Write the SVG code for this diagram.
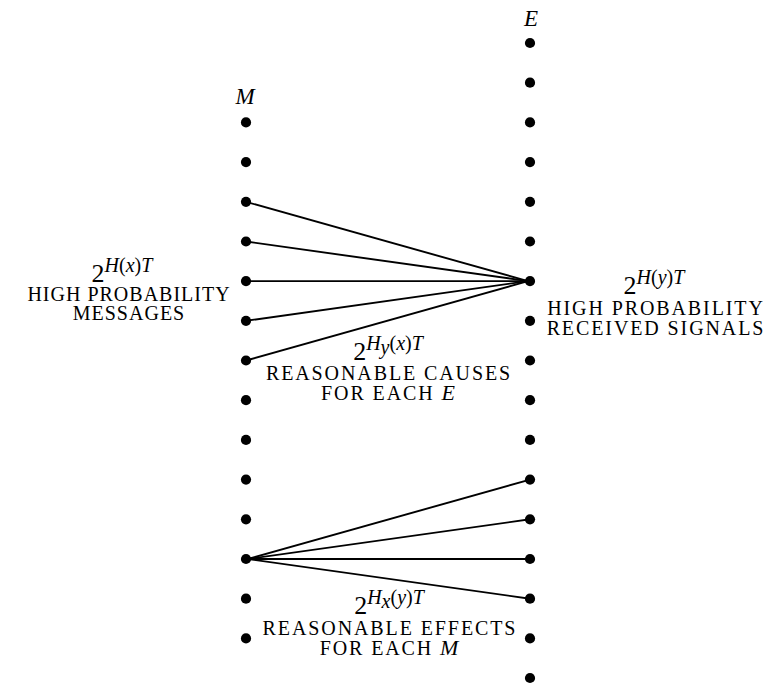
<svg xmlns="http://www.w3.org/2000/svg" width="765" height="686" viewBox="0 0 765 686">
<style>
.dot{fill:#000}
.ln{stroke:#000;stroke-width:1.9;fill:none}
.cap{font-family:"Liberation Serif","Times New Roman",serif;font-size:20px;letter-spacing:1.9px;fill:#000}
.two{font-family:"Liberation Serif","Times New Roman",serif;font-size:26px;fill:#000}
.sup{font-family:"Liberation Serif","Times New Roman",serif;font-size:20px;fill:#000}
.it{font-style:italic}
.lbl{font-family:"Liberation Serif","Times New Roman",serif;font-size:23px;font-style:italic;fill:#000}
</style>
<rect width="765" height="686" fill="#fff"/>
<g id="connectors">
<line class="ln" x1="246" y1="201.8" x2="528" y2="281.1"/>
<line class="ln" x1="246" y1="241.5" x2="528" y2="281.1"/>
<line class="ln" x1="246" y1="281.1" x2="528" y2="281.1"/>
<line class="ln" x1="246" y1="320.8" x2="528" y2="281.1"/>
<line class="ln" x1="246" y1="360.5" x2="528" y2="281.1"/>
<line class="ln" x1="248" y1="559.0" x2="530" y2="479.6"/>
<line class="ln" x1="248" y1="559.0" x2="530" y2="519.3"/>
<line class="ln" x1="248" y1="559.0" x2="530" y2="559.0"/>
<line class="ln" x1="248" y1="559.0" x2="530" y2="598.7"/>
</g>
<g id="M-column">
<g id="m2"><circle class="dot" cx="246" cy="122.4" r="5.1"/></g>
<g id="m3"><circle class="dot" cx="246" cy="162.1" r="5.1"/></g>
<g id="m4"><circle class="dot" cx="246" cy="201.8" r="5.1"/></g>
<g id="m5"><circle class="dot" cx="246" cy="241.5" r="5.1"/></g>
<g id="m6"><circle class="dot" cx="246" cy="281.1" r="5.1"/></g>
<g id="m7"><circle class="dot" cx="246" cy="320.8" r="5.1"/></g>
<g id="m8"><circle class="dot" cx="246" cy="360.5" r="5.1"/></g>
<g id="m9"><circle class="dot" cx="246" cy="400.2" r="5.1"/></g>
<g id="m10"><circle class="dot" cx="246" cy="439.9" r="5.1"/></g>
<g id="m11"><circle class="dot" cx="246" cy="479.6" r="5.1"/></g>
<g id="m12"><circle class="dot" cx="246" cy="519.3" r="5.1"/></g>
<g id="m13"><circle class="dot" cx="246" cy="559.0" r="5.1"/></g>
<g id="m14"><circle class="dot" cx="246" cy="598.7" r="5.1"/></g>
<g id="m15"><circle class="dot" cx="246" cy="638.4" r="5.1"/></g>
</g>
<g id="E-column">
<g id="e0"><circle class="dot" cx="530" cy="43.0" r="5.1"/></g>
<g id="e1"><circle class="dot" cx="530" cy="82.7" r="5.1"/></g>
<g id="e2"><circle class="dot" cx="530" cy="122.4" r="5.1"/></g>
<g id="e3"><circle class="dot" cx="530" cy="162.1" r="5.1"/></g>
<g id="e4"><circle class="dot" cx="530" cy="201.8" r="5.1"/></g>
<g id="e5"><circle class="dot" cx="530" cy="241.5" r="5.1"/></g>
<g id="e6"><circle class="dot" cx="530" cy="281.1" r="5.1"/></g>
<g id="e7"><circle class="dot" cx="530" cy="320.8" r="5.1"/></g>
<g id="e8"><circle class="dot" cx="530" cy="360.5" r="5.1"/></g>
<g id="e9"><circle class="dot" cx="530" cy="400.2" r="5.1"/></g>
<g id="e10"><circle class="dot" cx="530" cy="439.9" r="5.1"/></g>
<g id="e11"><circle class="dot" cx="530" cy="479.6" r="5.1"/></g>
<g id="e12"><circle class="dot" cx="530" cy="519.3" r="5.1"/></g>
<g id="e13"><circle class="dot" cx="530" cy="559.0" r="5.1"/></g>
<g id="e14"><circle class="dot" cx="530" cy="598.7" r="5.1"/></g>
<g id="e15"><circle class="dot" cx="530" cy="638.4" r="5.1"/></g>
<g id="e16"><circle class="dot" cx="530" cy="678.0" r="5.1"/></g>
</g>
<g id="label-M"><text class="lbl" x="245" y="104" text-anchor="middle">M</text></g>
<g id="label-E"><text class="lbl" x="531" y="26" text-anchor="middle">E</text></g>
<g id="label-messages">
<text x="122" y="282" text-anchor="middle"><tspan class="two">2</tspan><tspan class="sup it" dy="-10">H</tspan><tspan class="sup">(</tspan><tspan class="sup it">x</tspan><tspan class="sup">)</tspan><tspan class="sup it">T</tspan></text>
<text class="cap" x="129" y="301" text-anchor="middle" style="letter-spacing:1px">HIGH PROBABILITY</text>
<text class="cap" x="129" y="320" text-anchor="middle" style="letter-spacing:1px">MESSAGES</text>
</g>
<g id="label-signals">
<text x="654" y="294" text-anchor="middle"><tspan class="two">2</tspan><tspan class="sup it" dy="-10">H</tspan><tspan class="sup">(</tspan><tspan class="sup it">y</tspan><tspan class="sup">)</tspan><tspan class="sup it">T</tspan></text>
<text class="cap" x="656" y="315" text-anchor="middle">HIGH PROBABILITY</text>
<text class="cap" x="656" y="335" text-anchor="middle">RECEIVED SIGNALS</text>
</g>
<g id="label-causes">
<text x="388" y="360" text-anchor="middle"><tspan class="two">2</tspan><tspan class="sup it" dy="-10">H</tspan><tspan class="sup it" dy="4" font-size="13">y</tspan><tspan class="sup" dy="-4">(</tspan><tspan class="sup it">x</tspan><tspan class="sup">)</tspan><tspan class="sup it">T</tspan></text>
<text class="cap" x="389" y="380" text-anchor="middle">REASONABLE CAUSES</text>
<text class="cap" x="389" y="400" text-anchor="middle">FOR EACH <tspan class="it" font-size="22">E</tspan></text>
</g>
<g id="label-effects">
<text x="389" y="614" text-anchor="middle"><tspan class="two">2</tspan><tspan class="sup it" dy="-10">H</tspan><tspan class="sup it" dy="4" font-size="13">x</tspan><tspan class="sup" dy="-4">(</tspan><tspan class="sup it">y</tspan><tspan class="sup">)</tspan><tspan class="sup it">T</tspan></text>
<text class="cap" x="390" y="635" text-anchor="middle">REASONABLE EFFECTS</text>
<text class="cap" x="390" y="655" text-anchor="middle">FOR EACH <tspan class="it" font-size="22">M</tspan></text>
</g>
</svg>
